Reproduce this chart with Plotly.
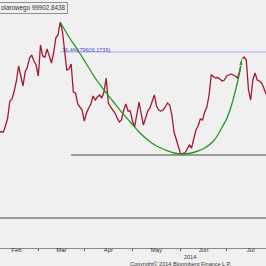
import pandas as pd
import plotly.graph_objects as go

# business-day dates of the series
dates = pd.bdate_range("2014-02-05", "2014-07-25")

price = [
    71636, 71636, 71606, 72206, 73006, 74706, 74906, 75706, 76706, 78206,
    77106, 76206, 77606, 78106, 79006, 79306, 78706, 78306,
    77206, 80306, 79206, 79106, 79906, 79306, 78506, 79506, 81006, 81306,
    82606, 81706, 79506, 77806, 77906, 78406, 75606, 75506, 74406, 74106,
    73806, 72706, 73506, 74006, 74406, 75206, 74806, 75106, 75306, 75006,
    75606, 77006, 74506, 74106, 73806, 73506, 73006, 72606, 72806, 73806,
    74406, 73706, 73706, 72706, 72106, 73506, 74606, 73406, 72306, 73006,
    73706, 74006, 74706, 75306, 74206, 73806, 73706, 73806, 74106, 74506,
    74306, 73306, 71606, 70806, 70106, 69406, 69456, 69506, 69906, 70306,
    70006, 70806, 71806, 72206, 72906, 72806, 73606, 74106, 75306, 77306,
    77106, 77006, 77056, 76906, 76706, 76806, 77206, 77306, 77406, 77306,
    77206, 77006, 77706, 78906, 79106, 78806, 75806, 74806, 76806, 77506,
    76806, 76706, 76506, 76006, 75406,
]
assert len(price) == len(dates)

arc_dates = ["2014-03-17", "2014-03-21", "2014-03-27", "2014-04-02", "2014-04-08",
             "2014-04-14", "2014-04-18", "2014-04-24", "2014-04-30", "2014-05-06",
             "2014-05-12", "2014-05-16", "2014-05-22", "2014-05-28", "2014-06-03",
             "2014-06-09", "2014-06-13", "2014-06-17", "2014-06-19", "2014-06-23",
             "2014-06-25", "2014-06-27", "2014-07-01", "2014-07-03", "2014-07-07",
             "2014-07-08", "2014-07-09", "2014-07-10"]
arc_vals = [82606, 81106, 79806, 78406, 77006, 75806, 74706, 73606, 72606, 71606,
            70806, 70206, 69806, 69506, 69406, 69506, 69806, 70006, 70306, 70706,
            71306, 72106, 72906, 74106, 75706, 76606, 77606, 79006]

fib_level = 79606.1739
fib_start = "2014-03-17"
low_level = 69306
low_start = "2014-03-24"
ext_level = 63006
line_end = "2014-07-31"

month_bounds = ["2014-03-03", "2014-04-01", "2014-05-01", "2014-06-02", "2014-07-01"]
month_mids = ["2014-02-17", "2014-03-17 12:00", "2014-04-16", "2014-05-16",
              "2014-06-16 12:00", "2014-07-16"]
month_names = ["Feb", "Mar", "Apr", "May", "Jun", "Jul"]

fig = go.Figure()
fig.add_trace(go.Scatter(x=[dates[0], line_end], y=[ext_level, ext_level], mode="lines",
                         line=dict(color="#9a9a9a", width=2.2), hoverinfo="skip"))
fig.add_trace(go.Scatter(x=[low_start, line_end], y=[low_level, low_level], mode="lines",
                         line=dict(color="#9a9a9a", width=2.2), hoverinfo="skip"))
fig.add_trace(go.Scatter(x=[fib_start, line_end], y=[fib_level, fib_level], mode="lines",
                         line=dict(color="#c4c4ec", width=1.5), hoverinfo="skip"))
fig.add_trace(go.Scatter(x=dates, y=price, mode="lines",
                         line=dict(color="#a3192f", width=1.3)))
fig.add_trace(go.Scatter(x=arc_dates, y=arc_vals, mode="lines", line_shape="spline",
                         line=dict(color="#1f9a1f", width=1.3)))
fig.add_trace(go.Scatter(x=arc_dates[-2:], y=arc_vals[-2:], mode="markers",
                         marker=dict(symbol="arrow", angleref="previous", size=[0, 8],
                                     color="#1f9a1f")))

fig.add_annotation(x=fib_start, y=fib_level, xanchor="left", yanchor="middle", yshift=2,
                   text="76.4%(79606.1739)", showarrow=False,
                   font=dict(size=5.5, color="#4848c0", family="Liberation Sans"))
fig.add_annotation(x=67.5 / 266, y=1 - 8 / 248, xref="paper", yref="paper",
                   xanchor="right", yanchor="middle", text="olarowego 99902.8438",
                   showarrow=False, bordercolor="#909090", borderwidth=1, borderpad=1,
                   bgcolor="#f0f0f0",
                   font=dict(size=6.3, color="#333333", family="Liberation Sans"))
fig.add_annotation(x=190 / 266, y=-9 / 248, xref="paper", yref="paper",
                   xanchor="center", yanchor="middle", text="2014", showarrow=False,
                   font=dict(size=5.5, color="#333333", family="Liberation Sans"))
fig.add_annotation(x=181 / 266, y=-15.5 / 248, xref="paper", yref="paper",
                   xanchor="center", yanchor="middle",
                   text="Copyright© 2014 Bloomberg Finance L.P.", showarrow=False,
                   font=dict(size=5.5, color="#333333", family="Liberation Sans"))

fig.update_layout(
    width=266, height=266, margin=dict(l=0, r=0, t=0, b=18),
    paper_bgcolor="#f0f0f0", plot_bgcolor="#f0f0f0", showlegend=False,
    xaxis=dict(type="date", range=["2014-02-05 12:00", "2014-07-25"],
               rangebreaks=[dict(bounds=["sat", "mon"])],
               showgrid=False, zeroline=False, showline=True, linecolor="#8a8a8a",
               linewidth=1, tickvals=month_mids, ticktext=month_names, ticks="",
               ticklabelstandoff=-4,
               tickfont=dict(size=6, color="#333333", family="Liberation Sans"),
               minor=dict(tickvals=month_bounds, ticks="outside", ticklen=2,
                          tickcolor="#555555", showgrid=False)),
    yaxis=dict(range=[60006, 84806], visible=False, showgrid=False, zeroline=False),
)

fig.write_html("out.html")
